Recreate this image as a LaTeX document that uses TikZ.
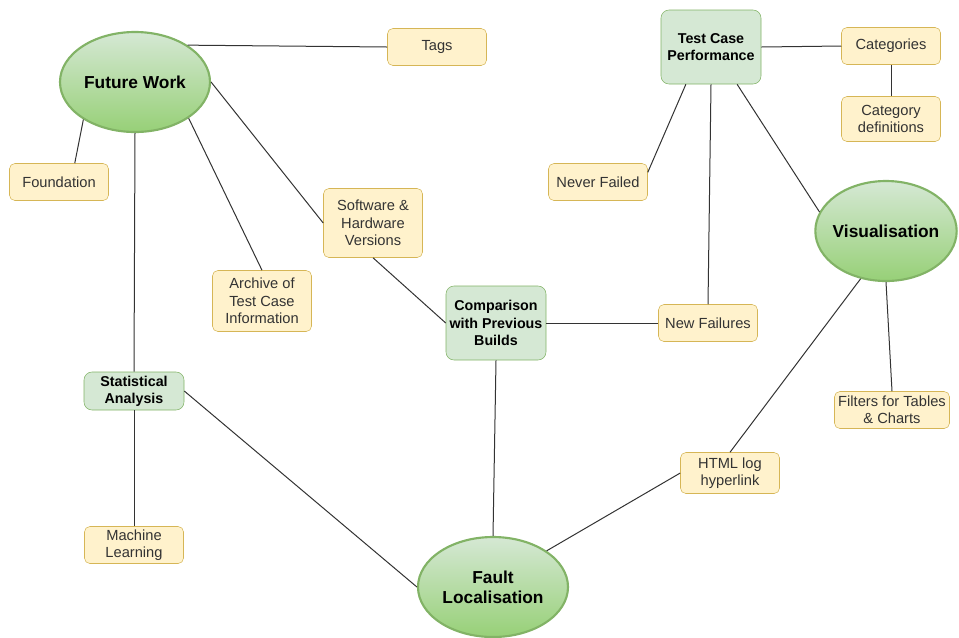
\documentclass[tikz,border=0pt]{standalone}
\usepackage{fontspec}
\setmainfont{Liberation Sans}
\usepackage{tikz}
\usepackage{xcolor}
\usetikzlibrary{shapes.geometric}
\definecolor{leafFill}{HTML}{FFF2CC}
\definecolor{leafLine}{HTML}{D6B656}
\definecolor{topicFill}{HTML}{D5E8D4}
\definecolor{topicLine}{HTML}{82B366}
\definecolor{mainBottom}{HTML}{97D077}
\definecolor{linkLine}{HTML}{333333}
\tikzset{
    leaf-box/.style = {draw=leafLine, fill=leafFill, thin, rectangle, rounded corners=4pt, align=center, inner sep=1pt, minimum width=74.25pt, minimum height=27.75pt, text=black!80, font=\fontsize{11}{13}\selectfont},
    topic-box/.style = {draw=topicLine, fill=topicFill, thin, rectangle, rounded corners=6pt, align=center, inner sep=1pt, minimum width=75pt, text=black, font=\fontsize{10.7}{13}\selectfont\bfseries},
    main-ellipse/.style = {draw=topicLine, line width=1.6pt, ellipse, top color=topicFill, bottom color=mainBottom, align=center, inner sep=0pt, minimum width=112.5pt, minimum height=75pt, font=\fontsize{13}{15}\selectfont\bfseries},
    link/.style = {draw=linkLine, line width=0.75pt},
}

\begin{document}
\begin{tikzpicture}[x=0.75pt, y=-0.75pt]
\useasboundingbox (0,0) rectangle (959,637);
% main ideas
\node [main-ellipse] (future) at (135,82) {Future Work};
\node [main-ellipse, minimum width=106pt, inner xsep=-5pt] (visual) at (886,231) {Visualisation};
\node [main-ellipse] (fault) at (493,587) {Fault\\Localisation};
% topics
\node [topic-box, minimum height=55.5pt] (perf) at (711,47) {Test Case\\Performance};
\node [topic-box, minimum height=55.5pt] (compare) at (496,323) {Comparison\\with Previous\\Builds};
\node [topic-box, minimum height=28.5pt] (stats) at (134,391) {Statistical\\Analysis};
% leaves
\node [leaf-box] (tags) at (437,47) {Tags};
\node [leaf-box] (cats) at (891,46) {Categories};
\node [leaf-box, minimum height=33.75pt] (catdefs) at (891,119) {Category\\definitions};
\node [leaf-box] (found) at (59,182) {Foundation};
\node [leaf-box] (never) at (598,182) {Never Failed};
\node [leaf-box, minimum height=51.75pt] (versions) at (373,223) {Software \&\\Hardware\\Versions};
\node [leaf-box, minimum height=45.75pt] (archive) at (262,301) {Archive of\\Test Case\\Information};
\node [leaf-box] (newfail) at (708,323) {New Failures};
\node [leaf-box, minimum width=86.25pt] (filters) at (892,410) {Filters for Tables\\\& Charts};
\node [leaf-box, minimum height=30.75pt] (html) at (730,473) {HTML log\\hyperlink};
\node [leaf-box] (learn) at (134,545) {Machine\\Learning};

% links
\draw [link] (future.35) -- (tags.west);
\draw [link] (future.216) -- (found.50);
\draw [link] (future.south) -- (stats.north);
\draw [link] (future.-34) -- (archive.north);
\draw [link] (future.east) -- (versions.west);
\draw [link] (versions.south) -- (compare.west);
\draw [link] (compare.east) -- (newfail.west);
\draw [link] (compare.south) -- (fault.north);
\draw [link] (perf.east) -- (cats.west);
\draw [link] (cats.south) -- (catdefs.north);
\draw [link] (perf.236) -- (never.11);
\draw [link] (perf.south) -- (newfail.north);
\draw [link] (perf.-55) -- (visual.164);
\draw [link] (visual.242) -- (html.north);
\draw [link] (visual.south) -- (filters.north);
\draw [link] (html.west) -- (fault.34);
\draw [link] (stats.south) -- (learn.north);
\draw [link] (stats.east) -- (fault.west);
\end{tikzpicture}
\end{document}
